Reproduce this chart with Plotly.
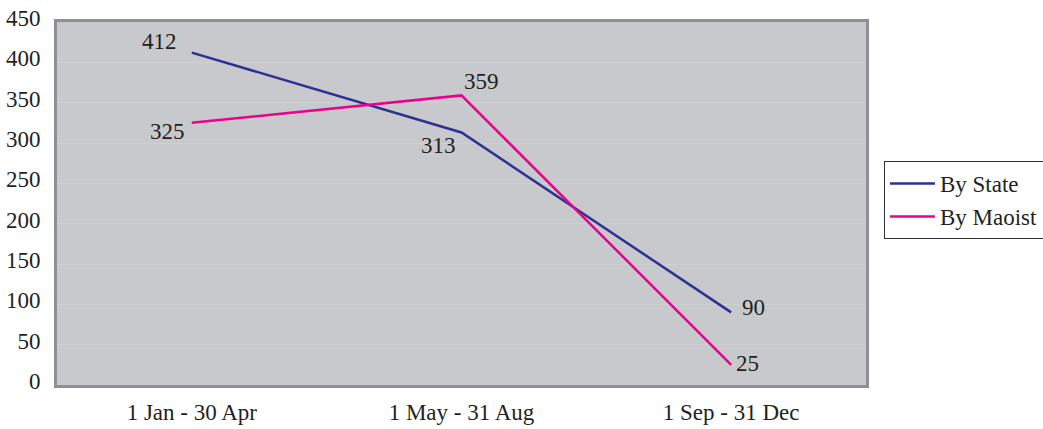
import plotly.graph_objects as go

# Incidents per four-month period
periods = ["1 Jan - 30 Apr", "1 May - 31 Aug", "1 Sep - 31 Dec"]
by_state = [412, 313, 90]
by_maoist = [325, 359, 25]

# label offsets (px) relative to each point
state_label_shift = [(-32, 11), (-23, -13), (22, 5)]
maoist_label_shift = [(-24, -9), (20, 14), (16, 1)]

FONT = "Liberation Serif, Times New Roman, serif"
FONT_SIZE = 23
TEXT_COLOR = "#231f20"
STATE_COLOR = "#2e3192"
MAOIST_COLOR = "#ec008c"

fig = go.Figure()
fig.add_trace(go.Scatter(
    x=periods, y=by_state, mode="lines", name="By State",
    line=dict(color=STATE_COLOR, width=2.5),
))
fig.add_trace(go.Scatter(
    x=periods, y=by_maoist, mode="lines", name="By Maoist",
    line=dict(color=MAOIST_COLOR, width=2.5),
))

for vals, shifts in ((by_state, state_label_shift), (by_maoist, maoist_label_shift)):
    for p, v, (dx, dy) in zip(periods, vals, shifts):
        fig.add_annotation(
            x=p, y=v, text=str(v), showarrow=False,
            xshift=dx, yshift=dy,
            font=dict(family=FONT, size=FONT_SIZE, color=TEXT_COLOR),
        )

fig.update_layout(
    width=1043, height=429,
    margin=dict(l=57, r=177, t=22, b=44, autoexpand=False),
    paper_bgcolor="white",
    plot_bgcolor="#c8c9cd",
    font=dict(family=FONT, size=FONT_SIZE, color=TEXT_COLOR),
    showlegend=True,
    legend=dict(
        x=1.0222, y=0.617, xanchor="left", yanchor="top",
        bgcolor="white", bordercolor="#333333", borderwidth=1,
        font=dict(family=FONT, size=FONT_SIZE, color=TEXT_COLOR),
        itemwidth=45, tracegroupgap=0,
    ),
    xaxis=dict(
        type="category", range=[-0.5, 2.5], automargin=False,
        showgrid=False, zeroline=False,
        showline=True, mirror=True, linecolor="#8f9094", linewidth=3,
        ticks="", ticklabelstandoff=4,
        tickfont=dict(family=FONT, size=FONT_SIZE, color=TEXT_COLOR),
    ),
    yaxis=dict(
        range=[0, 450], dtick=50, tick0=0, automargin=False,
        showgrid=True, gridcolor="#cfd0d3", gridwidth=1,
        zeroline=False,
        showline=True, mirror=True, linecolor="#8f9094", linewidth=3,
        ticks="", ticklabelstandoff=9, ticklabelshift=-4,
        tickfont=dict(family=FONT, size=FONT_SIZE, color=TEXT_COLOR),
    ),
)

fig.write_html("out.html")
